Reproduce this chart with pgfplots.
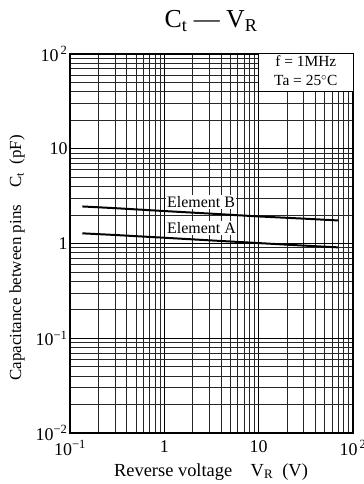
\documentclass[border=0pt]{standalone}
\usepackage{fontspec}
\setmainfont{Liberation Serif}
\usepackage{pgfplots}
\pgfplotsset{compat=1.18}
\begin{document}
\begin{tikzpicture}[x=1bp,y=1bp]
\path[use as bounding box] (-70,-51) rectangle (293,433);
\begin{axis}[at={(0,0)}, anchor=south west, scale only axis,
  width=283bp, height=379bp,
  xmode=log, ymode=log, xmin=0.1, xmax=100, ymin=0.01, ymax=100,
  xtick={0.1,1,10,100},
  xticklabels={10\textsuperscript{−1},1,10,10\textsuperscript{\,2}},
  ytick={0.01,0.1,1,10,100},
  yticklabels={10\textsuperscript{−2},10\textsuperscript{−1},1,10,10\textsuperscript{\,2}},
  grid=both,
  major grid style={black, line width=1.2pt},
  minor grid style={black!85, line width=0.75pt},
  major tick length=0pt, minor tick length=0pt,
  axis line style={line width=1.4pt},
  tick label style={font=\fontsize{18}{20}\selectfont},
  xticklabel style={yshift=-4bp},
  yticklabel style={xshift=1bp},
  clip=false,
]
\draw[fill=white, line width=1pt] (axis cs:10,40) rectangle (axis cs:100,100);
\node[font=\fontsize{15.5}{17}\selectfont, anchor=base] at (axis cs:31.6,73) {f = 1MHz};
\node[font=\fontsize{15.5}{17}\selectfont, anchor=base] at (axis cs:31.6,46.5) {Ta = 25$^\circ$C};
\node[fill=white, inner sep=1.5pt, anchor=west, font=\fontsize{16}{18}\selectfont] at (axis cs:1.03,2.75) {Element B};
\node[fill=white, inner sep=1.5pt, anchor=west, font=\fontsize{16}{18}\selectfont] at (axis cs:1.03,1.47) {Element A};
\addplot[black, line width=2pt, no marks] coordinates {(0.135,2.46) (0.3,2.36) (1,2.2) (3,2.07) (10,1.93) (30,1.83) (70,1.75)};
\addplot[black, line width=2pt, no marks] coordinates {(0.135,1.28) (0.3,1.23) (1,1.15) (3,1.08) (10,1.01) (30,0.95) (70,0.91)};
\end{axis}
\node[anchor=base, font=\fontsize{26}{28}\selectfont] at (141,405) {C\textsubscript{t} — V\textsubscript{R}};
\node[anchor=base, font=\fontsize{18.5}{20}\selectfont] at (141,-43) {Reverse voltage\quad V\textsubscript{R}\ \ (V)};
\node[rotate=90, font=\fontsize{17}{19}\selectfont] at (-53,175) {Capacitance between pins\quad C\textsubscript{t}\ \ (pF)};
\end{tikzpicture}
\end{document}
